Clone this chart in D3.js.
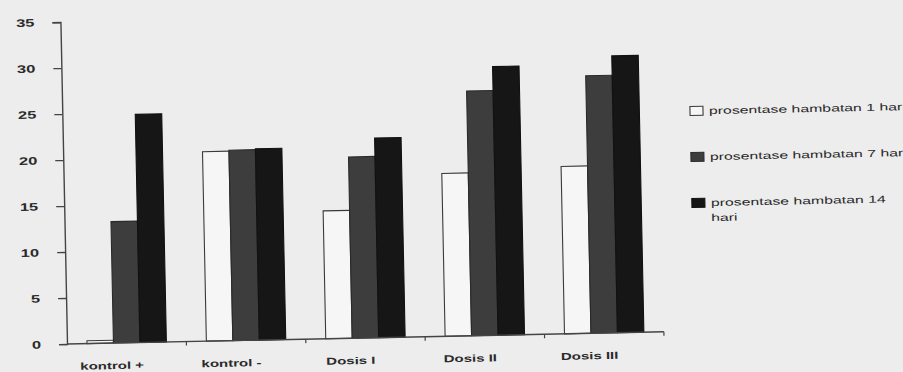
<!DOCTYPE html>
<html>
<head>
<meta charset="utf-8">
<script src="https://cdn.jsdelivr.net/npm/d3@7"></script>
<style>
  html, body { margin: 0; padding: 0; background: #ededed; }
  svg { display: block; }
  text { font-family: "Liberation Sans", Arial, sans-serif; fill: #2a2a2a; }
</style>
</head>
<body>
<svg id="chart" width="903" height="372"></svg>
<script>
// Persentase hambatan per perlakuan
const categories = ["kontrol +", "kontrol -", "Dosis I", "Dosis II", "Dosis III"];
const hambatan1Hari  = [0.3, 20.6, 13.9, 17.7, 18.2];
const hambatan7Hari  = [13.2, 20.7, 19.7, 26.6, 28.0];
const hambatan14Hari = [24.8, 20.8, 21.7, 29.2, 30.1];
const seriesNames = ["prosentase hambatan 1 hari", "prosentase hambatan 7 hari", "prosentase hambatan 14 hari"];
const yTicks = [0, 5, 10, 15, 20, 25, 30, 35];

const seriesValues = [hambatan1Hari, hambatan7Hari, hambatan14Hari];
const fills   = ["#f6f6f6", "#3d3d3d", "#161616"];
const strokes = ["#3a3a3a", "#2a2a2a", "#111111"];

const svg = d3.select("#chart");
const W = 903, H = 372;
svg.append("rect").attr("width", W).attr("height", H).attr("fill", "#ededed");

const origin = { x: 67, y: 344 };
const tilt = -1.17;

const x0 = d3.scaleBand().domain(categories).range([origin.x, 664]).padding(0);
const x1 = d3.scaleBand().domain(d3.range(seriesNames.length))
  .range([20, x0.bandwidth() - 20]).padding(0);
const y = d3.scaleLinear().domain([0, 35]).range([origin.y, 22]);

const g = svg.append("g").attr("transform", `rotate(${tilt}, ${origin.x}, ${origin.y})`);

// bars
const groups = g.selectAll("g.cat").data(categories).join("g")
  .attr("class", "cat")
  .attr("transform", c => `translate(${x0(c)},0)`);

groups.selectAll("rect")
  .data((c, i) => seriesValues.map((vals, s) => ({ s, v: vals[i] })))
  .join("rect")
  .attr("x", d => x1(d.s))
  .attr("width", x1.bandwidth())
  .attr("y", d => y(d.v))
  .attr("height", d => y(0) - y(d.v))
  .attr("fill", d => fills[d.s])
  .attr("stroke", d => strokes[d.s])
  .attr("stroke-width", 1.1);

// y axis
const yAxis = g.append("g")
  .attr("transform", `translate(${origin.x},0)`)
  .call(d3.axisLeft(y).tickValues(yTicks).tickSize(8).tickFormat(d3.format("d")));
yAxis.select(".domain").attr("stroke", "#444").attr("stroke-width", 1.4);
yAxis.selectAll(".tick line").attr("stroke", "#444").attr("stroke-width", 1.3);
yAxis.selectAll(".tick text")
  .attr("class", "yl")
  .attr("font-size", 11).attr("font-weight", "bold")
  .style("font-family", "'Liberation Sans', Arial, sans-serif").attr("fill", "#333");

// x axis: baseline with ticks on category boundaries
const xEnd = x0.range()[1];
g.append("line")
  .attr("x1", origin.x).attr("x2", xEnd)
  .attr("y1", y(0)).attr("y2", y(0))
  .attr("stroke", "#444").attr("stroke-width", 1.4);
const bounds = categories.map(c => x0(c) + x0.bandwidth());
g.selectAll("line.xt").data(bounds).join("line")
  .attr("class", "xt")
  .attr("x1", d => d).attr("x2", d => d)
  .attr("y1", y(0)).attr("y2", y(0) + 4)
  .attr("stroke", "#444").attr("stroke-width", 1.2);

g.selectAll("text.xl").data(categories).join("text")
  .attr("class", "xl")
  .attr("x", c => x0(c) + x0.bandwidth() / 2 - 15)
  .attr("y", y(0) + 26)
  .attr("text-anchor", "middle")
  .attr("font-size", 10).attr("font-weight", "bold")
  .text(c => c);

// legend
const legend = svg.append("g").attr("transform", `rotate(${tilt}, 690, 160)`);
const legendRows = [
  { s: 0, y: 111, lines: ["prosentase hambatan 1 hari"] },
  { s: 1, y: 157, lines: ["prosentase hambatan 7 hari"] },
  { s: 2, y: 203, lines: ["prosentase hambatan 14", "hari"] }
];
legendRows.forEach(r => {
  legend.append("rect")
    .attr("x", 691).attr("y", r.y - 4.5)
    .attr("width", 13).attr("height", 9)
    .attr("fill", fills[r.s]).attr("stroke", strokes[r.s]).attr("stroke-width", 1.1);
  r.lines.forEach((ln, k) => {
    legend.append("text")
      .attr("class", "lg")
      .attr("x", 710).attr("y", r.y + 3.5 + k * 15)
      .attr("font-size", 10)
      .attr("fill", "#1a1a1a")
      .text(ln);
  });
});

// widen glyphs horizontally
function widen(sel, k) {
  sel.each(function () {
    const len = this.getComputedTextLength();
    d3.select(this).attr("textLength", len * k).attr("lengthAdjust", "spacingAndGlyphs");
  });
}
widen(svg.selectAll("text.xl"), 1.5);
widen(svg.selectAll("text.lg"), 1.58);

// y labels: right edge kept a fixed gap left of the axis
yAxis.selectAll(".tick text").each(function () {
  const len = this.getComputedTextLength();
  d3.select(this)
    .attr("text-anchor", "start")
    .attr("x", -26 - len * 1.5)
    .attr("textLength", len * 1.5)
    .attr("lengthAdjust", "spacingAndGlyphs");
});
</script>
</body>
</html>
